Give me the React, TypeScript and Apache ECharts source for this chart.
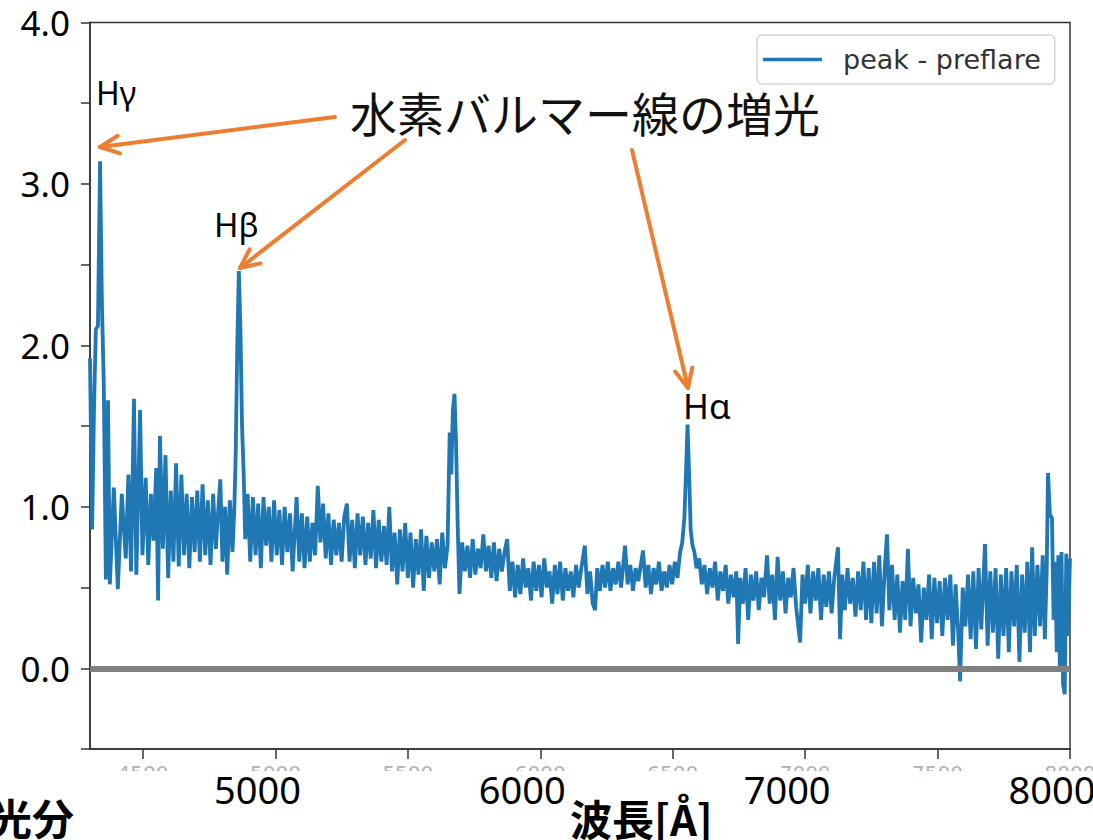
import React, { useEffect, useRef } from "react";
import * as echarts from "echarts";

// [wavelength (Å), flux difference]
const SPECTRUM: [number, number][] = [
  [4300, 1.92], [4308, 0.86], [4315, 1.6], [4322, 2.1], [4330, 2.12], [4338, 3.14], [4345, 2.26], [4352, 1.76],
  [4360, 0.55], [4368, 1.66], [4375, 0.52], [4390, 1.12], [4405, 0.49], [4420, 1.08], [4435, 0.68], [4445, 1.2],
  [4455, 0.6], [4466, 1.67], [4475, 0.58], [4489, 1.6], [4498, 0.7], [4510, 1.18], [4520, 0.64], [4530, 1.08],
  [4540, 0.79], [4550, 1.24], [4557, 0.42], [4564, 1.44], [4575, 0.74], [4585, 1.32], [4595, 0.56], [4605, 1.1],
  [4615, 0.66], [4625, 1.27], [4635, 0.63], [4645, 1.2], [4655, 0.7], [4665, 1.08], [4675, 0.62], [4685, 1.06],
  [4695, 0.72], [4705, 1.1], [4715, 0.66], [4725, 1.14], [4735, 0.7], [4745, 1.04], [4755, 0.64], [4765, 1.08],
  [4775, 0.74], [4785, 1.0], [4792, 1.17], [4800, 0.66], [4810, 1.0], [4818, 0.58], [4828, 1.04], [4838, 0.72],
  [4845, 1.0], [4850, 1.32], [4856, 2.0], [4862, 2.46], [4868, 2.1], [4874, 1.5], [4880, 1.22], [4886, 0.8],
  [4895, 1.08], [4905, 0.66], [4915, 1.06], [4925, 0.7], [4935, 1.02], [4945, 0.62], [4955, 1.06], [4965, 0.76],
  [4975, 1.0], [4985, 0.66], [4995, 1.04], [5005, 0.7], [5015, 0.98], [5025, 0.64], [5035, 1.0], [5045, 0.72],
  [5055, 0.96], [5065, 0.6], [5080, 1.06], [5090, 0.66], [5100, 0.96], [5110, 0.62], [5120, 0.94], [5130, 0.66],
  [5140, 0.9], [5150, 0.7], [5160, 1.13], [5170, 0.78], [5180, 1.02], [5190, 0.68], [5200, 0.96], [5210, 0.64],
  [5220, 0.92], [5230, 0.7], [5240, 0.9], [5250, 0.66], [5260, 0.94], [5270, 1.02], [5280, 0.66], [5290, 0.92],
  [5300, 0.62], [5310, 0.96], [5320, 0.7], [5330, 0.94], [5340, 0.64], [5350, 0.9], [5360, 0.68], [5370, 0.98],
  [5380, 0.62], [5390, 0.92], [5400, 0.66], [5410, 0.88], [5420, 0.64], [5430, 1.0], [5440, 0.6], [5450, 0.84],
  [5460, 0.52], [5470, 0.86], [5480, 0.6], [5490, 0.9], [5500, 0.56], [5510, 0.84], [5520, 0.5], [5530, 0.8],
  [5540, 0.58], [5550, 0.86], [5560, 0.48], [5570, 0.82], [5580, 0.56], [5590, 0.78], [5600, 0.6], [5610, 0.8],
  [5620, 0.52], [5630, 0.84], [5640, 0.62], [5650, 0.76], [5658, 1.46], [5664, 1.2], [5670, 1.6], [5676, 1.7],
  [5682, 1.4], [5688, 0.9], [5695, 0.46], [5705, 0.78], [5715, 0.6], [5725, 0.76], [5735, 0.56], [5745, 0.8],
  [5755, 0.58], [5765, 0.74], [5775, 0.62], [5785, 0.83], [5795, 0.6], [5805, 0.76], [5815, 0.56], [5825, 0.78],
  [5835, 0.54], [5845, 0.74], [5855, 0.6], [5865, 0.72], [5875, 0.8], [5885, 0.48], [5895, 0.66], [5905, 0.44],
  [5915, 0.64], [5925, 0.46], [5935, 0.68], [5945, 0.5], [5955, 0.62], [5965, 0.42], [5975, 0.66], [5985, 0.48],
  [5995, 0.64], [6005, 0.44], [6015, 0.68], [6025, 0.5], [6035, 0.6], [6045, 0.4], [6055, 0.64], [6065, 0.46],
  [6075, 0.66], [6085, 0.42], [6095, 0.62], [6105, 0.48], [6115, 0.6], [6125, 0.44], [6135, 0.64], [6145, 0.5],
  [6155, 0.62], [6168, 0.76], [6178, 0.46], [6188, 0.6], [6198, 0.4], [6207, 0.36], [6215, 0.62], [6225, 0.48],
  [6235, 0.64], [6245, 0.5], [6255, 0.66], [6265, 0.48], [6275, 0.62], [6285, 0.52], [6295, 0.66], [6305, 0.5],
  [6320, 0.76], [6330, 0.52], [6340, 0.64], [6350, 0.48], [6360, 0.62], [6370, 0.54], [6388, 0.73], [6398, 0.5],
  [6408, 0.64], [6418, 0.46], [6428, 0.62], [6438, 0.52], [6448, 0.66], [6458, 0.48], [6468, 0.6], [6478, 0.5],
  [6488, 0.64], [6498, 0.52], [6508, 0.66], [6518, 0.56], [6528, 0.72], [6536, 0.78], [6544, 0.93], [6550, 1.2],
  [6556, 1.51], [6562, 1.2], [6568, 0.85], [6575, 0.76], [6582, 0.72], [6590, 0.62], [6600, 0.68], [6610, 0.52],
  [6620, 0.64], [6630, 0.46], [6640, 0.62], [6650, 0.5], [6660, 0.66], [6670, 0.42], [6680, 0.6], [6690, 0.48],
  [6700, 0.64], [6710, 0.4], [6720, 0.58], [6730, 0.44], [6740, 0.6], [6747, 0.15], [6755, 0.56], [6765, 0.4],
  [6775, 0.62], [6785, 0.3], [6795, 0.58], [6805, 0.42], [6815, 0.6], [6825, 0.36], [6835, 0.56], [6845, 0.44],
  [6856, 0.7], [6866, 0.4], [6876, 0.58], [6886, 0.3], [6896, 0.69], [6906, 0.42], [6916, 0.6], [6926, 0.34],
  [6936, 0.56], [6946, 0.44], [6956, 0.62], [6966, 0.38], [6981, 0.16], [6990, 0.58], [7000, 0.4], [7010, 0.64],
  [7020, 0.34], [7030, 0.6], [7040, 0.42], [7050, 0.62], [7060, 0.3], [7070, 0.58], [7080, 0.38], [7090, 0.6],
  [7100, 0.34], [7110, 0.56], [7124, 0.75], [7132, 0.18], [7140, 0.58], [7150, 0.36], [7160, 0.62], [7170, 0.4],
  [7180, 0.56], [7190, 0.32], [7200, 0.6], [7210, 0.36], [7220, 0.66], [7230, 0.3], [7240, 0.62], [7250, 0.28],
  [7260, 0.66], [7270, 0.34], [7280, 0.7], [7290, 0.26], [7300, 0.6], [7309, 0.83], [7318, 0.36], [7328, 0.64],
  [7338, 0.3], [7348, 0.58], [7358, 0.22], [7368, 0.54], [7378, 0.3], [7388, 0.74], [7398, 0.26], [7408, 0.56],
  [7418, 0.34], [7428, 0.52], [7438, 0.16], [7448, 0.5], [7458, 0.3], [7468, 0.58], [7478, 0.18], [7488, 0.56],
  [7498, 0.28], [7508, 0.54], [7518, 0.2], [7528, 0.56], [7538, 0.3], [7548, 0.58], [7558, 0.14], [7568, 0.52],
  [7578, 0.22], [7585, -0.08], [7595, 0.5], [7605, 0.26], [7615, 0.58], [7625, 0.18], [7635, 0.6], [7645, 0.12],
  [7655, 0.62], [7665, 0.24], [7679, 0.77], [7689, 0.14], [7699, 0.6], [7709, 0.22], [7719, 0.62], [7729, 0.06],
  [7739, 0.58], [7749, 0.2], [7759, 0.62], [7769, 0.1], [7779, 0.6], [7789, 0.26], [7799, 0.64], [7809, 0.04],
  [7819, 0.58], [7829, 0.22], [7839, 0.66], [7849, 0.1], [7857, 0.75], [7867, 0.2], [7877, 0.64], [7887, 0.26],
  [7897, 0.7], [7905, 0.18], [7912, 0.6], [7917, 1.21], [7924, 0.95], [7932, 0.93], [7938, 0.3], [7944, 0.66],
  [7950, 0.1], [7956, 0.7], [7962, -0.02], [7968, 0.72], [7974, -0.1], [7980, -0.16], [7986, 0.71], [7992, 0.2],
  [8000, 0.68],
];

const SERIES_NAME = "peak - preflare";
const X_MIN = 4300;
const X_MAX = 8000;
const X_TICKS = [4500, 5000, 5500, 6000, 6500, 7000, 7500, 8000];
const X_BIG_LABELS = [5000, 6000, 7000, 8000];
const Y_MIN = -0.5;
const Y_MAX = 4.0;
const Y_STEP = 0.5;
const LINE_NAMES = ["Hγ", "Hβ", "Hα"];
const ANNOTATION = "水素バルマー線の増光";
const X_TITLE = "波長[Å]";
const LEFT_FRAGMENT = "光分";

const ORANGE = "#ED7D31";
const BLUE = "#1f77b4";
const JP = "'Noto Sans CJK JP', 'Noto Sans', sans-serif";

function arrow(x1: number, y1: number, x2: number, y2: number) {
  const dx = x1 - x2;
  const dy = y1 - y2;
  const len = Math.hypot(dx, dy);
  const ux = dx / len;
  const uy = dy / len;
  const L = 21;
  const a = (25 * Math.PI) / 180;
  const rot = (t: number) => [
    x2 + L * (ux * Math.cos(t) - uy * Math.sin(t)),
    y2 + L * (ux * Math.sin(t) + uy * Math.cos(t)),
  ];
  const stroke = { stroke: ORANGE, lineWidth: 4, lineCap: "round", lineJoin: "round" };
  return [
    { type: "line", z: 30, shape: { x1, y1, x2, y2 }, style: { ...stroke } },
    { type: "polyline", z: 30, shape: { points: [rot(a), [x2, y2], rot(-a)] }, style: { ...stroke, fill: null } },
  ];
}

function buildOption() {
  return {
    animation: false,
    backgroundColor: "#fff",
    grid: {
      left: 90,
      right: 23,
      top: 22.5,
      bottom: 91,
      containLabel: false,
      outerBoundsMode: "none",
      show: true,
      borderColor: "#333",
      borderWidth: 1.5,
      backgroundColor: "transparent",
    },
    legend: {
      data: [SERIES_NAME],
      left: 757,
      top: 35,
      padding: [11, 14, 11, 6],
      borderColor: "#d4d4d4",
      borderWidth: 1.5,
      borderRadius: 5,
      backgroundColor: "rgba(255,255,255,0.85)",
      icon: "rect",
      itemWidth: 59,
      itemHeight: 3.5,
      z: 20,
      textStyle: {
        fontFamily: "'DejaVu Sans', sans-serif",
        fontSize: 27,
        color: "#333",
        padding: [0, 0, 0, 16],
      },
    },
    xAxis: [
      {
        type: "value",
        min: X_MIN,
        max: X_MAX,
        z: 10,
        splitLine: { show: false },
        axisLine: { show: true, onZero: false, lineStyle: { color: "#333", width: 1.5 } },
        axisTick: { show: true, customValues: X_TICKS, length: 10, lineStyle: { color: "#333", width: 1.5 } },
        axisLabel: {
          customValues: X_BIG_LABELS,
          formatter: (v: number) => String(v),
          fontFamily: "'Noto Sans', sans-serif",
          fontSize: 38,
          color: "#000",
          margin: 21,
          padding: [0, 36, 0, 0],
        },
      },
      {
        type: "value",
        min: X_MIN,
        max: X_MAX,
        position: "bottom",
        z: 0,
        splitLine: { show: false },
        axisLine: { show: false, onZero: false },
        axisTick: { show: false },
        axisLabel: {
          customValues: X_TICKS,
          formatter: (v: number) => String(v),
          fontFamily: "'DejaVu Sans', sans-serif",
          fontSize: 20,
          color: "#b0b0b0",
          margin: 14,
        },
      },
    ],
    yAxis: {
      type: "value",
      min: Y_MIN,
      max: Y_MAX,
      interval: Y_STEP,
      splitLine: { show: false },
      axisLine: { show: true, onZero: false, lineStyle: { color: "#333", width: 1.5 } },
      axisTick: { show: true, length: 9, lineStyle: { color: "#333", width: 1.5 } },
      axisLabel: {
        fontFamily: "'Noto Sans', sans-serif",
        fontSize: 35,
        color: "#000",
        margin: 20,
        padding: [14, 0, 0, 0],
        formatter: (v: number) =>
          v >= 0 && Math.abs(v - Math.round(v)) < 1e-6 ? v.toFixed(1) : "",
      },
    },
    series: [
      {
        name: SERIES_NAME,
        type: "line",
        xAxisIndex: 0,
        data: SPECTRUM,
        symbol: "none",
        showSymbol: false,
        lineStyle: { color: BLUE, width: 3.8 },
        itemStyle: { color: BLUE },
        z: 2,
        markLine: {
          silent: true,
          symbol: "none",
          label: { show: false },
          lineStyle: { color: "#808080", width: 6, type: "solid" },
          data: [{ yAxis: 0 }],
        },
      },
    ],
    graphic: [
      { type: "rect", z: 5, shape: { x: 86, y: 771, width: 1010, height: 30 }, style: { fill: "#fff" } },
      ...arrow(335, 117, 100, 147),
      ...arrow(405, 140, 240, 268),
      ...arrow(632, 150, 688, 388),
      {
        type: "text", z: 30, x: 350, y: 111,
        style: { text: ANNOTATION, fontFamily: JP, fontSize: 47, fill: "#111", align: "left", verticalAlign: "middle" },
      },
      {
        type: "text", z: 30, x: 96, y: 92,
        style: { text: LINE_NAMES[0], fontFamily: "'Noto Sans', sans-serif", fontSize: 32, fill: "#000", align: "left", verticalAlign: "middle" },
      },
      {
        type: "text", z: 30, x: 214, y: 224,
        style: { text: LINE_NAMES[1], fontFamily: "'Noto Sans', sans-serif", fontSize: 33, fill: "#000", align: "left", verticalAlign: "middle" },
      },
      {
        type: "text", z: 30, x: 683, y: 405,
        style: { text: LINE_NAMES[2], fontFamily: "'Noto Sans', sans-serif", fontSize: 35, fill: "#000", align: "left", verticalAlign: "middle" },
      },
      {
        type: "text", z: 30, x: 570, y: 817,
        style: { text: X_TITLE, fontFamily: JP, fontWeight: "bold", fontSize: 42, fill: "#000", align: "left", verticalAlign: "middle" },
      },
      {
        type: "text", z: 30, x: -10, y: 816,
        style: { text: LEFT_FRAGMENT, fontFamily: JP, fontWeight: "bold", fontSize: 42, fill: "#000", align: "left", verticalAlign: "middle" },
      },
    ],
  };
}

export default function App() {
  const ref = useRef<HTMLDivElement>(null);
  useEffect(() => {
    if (!ref.current) return;
    const chart = echarts.init(ref.current, null, { renderer: "svg" });
    chart.setOption(buildOption() as any);
    return () => chart.dispose();
  }, []);
  return (
    <div
      ref={ref}
      style={{ position: "fixed", left: 0, top: 0, width: 1093, height: 840, background: "#fff" }}
    />
  );
}
